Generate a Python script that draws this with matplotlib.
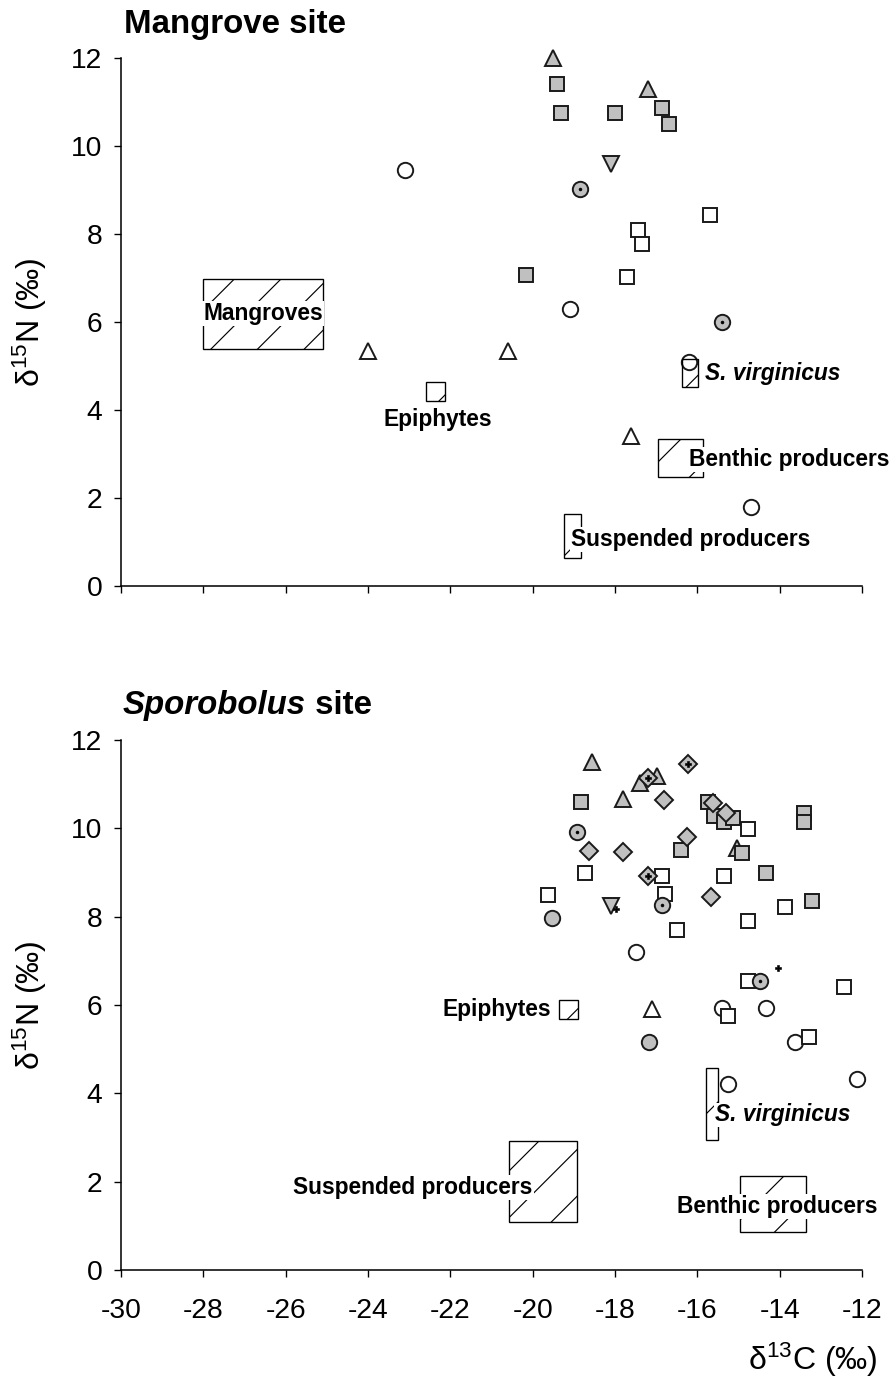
import matplotlib
matplotlib.use('Agg')
import matplotlib.pyplot as plt
import numpy as np

plt.rcParams['font.family'] = ['Liberation Sans', 'DejaVu Sans']
plt.rcParams['mathtext.fontset'] = 'custom'
plt.rcParams['mathtext.rm'] = 'Liberation Sans'
plt.rcParams['mathtext.it'] = 'Liberation Sans:italic'
plt.rcParams['mathtext.bf'] = 'Liberation Sans:bold'
plt.rcParams['axes.unicode_minus'] = False
plt.rcParams['hatch.linewidth'] = 0.6

GRAY = '#c0c0c0'
EDGE = '#1a1a1a'
DPI = 140

# ---------------- Mangrove site (top) ----------------
m_gray_sq_x = [-19.4, -19.3, -18.0, -16.85, -16.7, -20.15]
m_gray_sq_y = [11.42, 10.76, 10.76, 10.87, 10.49, 7.07]
m_gray_tri_x = [-19.5, -17.2]
m_gray_tri_y = [12.0, 11.3]
m_gray_dtri_x = [-18.1]
m_gray_dtri_y = [9.6]
m_dot_circ_x = [-18.85, -15.4]
m_dot_circ_y = [9.03, 6.0]
m_white_sq_x = [-15.7, -17.45, -17.35, -17.7]
m_white_sq_y = [8.43, 8.08, 7.78, 7.02]
m_white_circ_x = [-23.1, -19.1, -16.2, -14.7]
m_white_circ_y = [9.45, 6.3, 5.08, 1.8]
m_white_tri_x = [-24.0, -20.6, -17.6]
m_white_tri_y = [5.35, 5.33, 3.41]

m_src_names = ['Mangroves', 'Epiphytes', 'S. virginicus', 'Benthic producers', 'Suspended producers']
m_src_xlo = [-28.0, -22.58, -16.37, -16.96, -19.25]
m_src_xhi = [-25.1, -22.12, -15.98, -15.86, -18.83]
m_src_ylo = [5.38, 4.21, 4.52, 2.48, 0.64]
m_src_yhi = [6.98, 4.64, 5.17, 3.33, 1.63]

# ---------------- Sporobolus site (bottom) ----------------
s_gray_tri_x = [-18.56, -17.39, -16.97, -17.8, -15.03]
s_gray_tri_y = [11.51, 11.03, 11.18, 10.67, 9.55]
s_gray_sq_x = [-18.82, -15.75, -15.59, -15.35, -15.14, -13.41, -13.41, -16.39, -14.91, -14.33, -13.21]
s_gray_sq_y = [10.6, 10.59, 10.29, 10.14, 10.24, 10.35, 10.15, 9.52, 9.45, 9.0, 8.35]
s_gray_dia_x = [-16.22, -17.19, -16.81, -15.61, -15.3, -18.62, -17.8, -16.26, -17.21, -15.67]
s_gray_dia_y = [11.45, 11.13, 10.64, 10.57, 10.34, 9.49, 9.47, 9.8, 8.91, 8.44]
s_gray_dtri_x = [-18.09]
s_gray_dtri_y = [8.25]
s_dot_circ_x = [-18.92, -16.85, -14.48]
s_dot_circ_y = [9.92, 8.26, 6.54]
s_gray_circ_x = [-19.53, -17.17]
s_gray_circ_y = [7.96, 5.16]
s_white_sq_x = [-14.77, -18.72, -16.87, -15.36, -19.62, -16.79, -13.86, -14.78, -16.5, -14.78, -12.43, -15.25, -13.29]
s_white_sq_y = [9.98, 9.0, 8.91, 8.92, 8.48, 8.51, 8.22, 7.91, 7.7, 6.55, 6.4, 5.75, 5.28]
s_white_circ_x = [-17.5, -15.41, -14.32, -13.62, -15.25, -12.13]
s_white_circ_y = [7.21, 5.94, 5.93, 5.17, 4.21, 4.33]
s_white_tri_x = [-17.1]
s_white_tri_y = [5.9]
s_plus_x = [-16.22, -17.19, -17.21, -17.97, -14.03]
s_plus_y = [11.45, 11.13, 8.91, 8.18, 6.83]

s_src_names = ['Epiphytes', 'S. virginicus', 'Suspended producers', 'Benthic producers']
s_src_xlo = [-19.35, -15.8, -20.57, -14.97]
s_src_xhi = [-18.89, -15.5, -18.93, -13.35]
s_src_ylo = [5.68, 2.94, 1.08, 0.87]
s_src_yhi = [6.11, 4.57, 2.92, 2.12]

fig = plt.figure(figsize=(892 / DPI, 1383 / DPI), dpi=DPI)
ax1 = fig.add_axes([121 / 892, 1 - 586 / 1383, 741 / 892, 528 / 1383])
ax2 = fig.add_axes([121 / 892, 1 - 1270 / 1383, 741 / 892, 530 / 1383])

MS_SQ, MS_O, MS_TRI, MS_D = 7.2, 7.9, 8.2, 6.4


def pts(ax, x, y, marker, fc, ms, z=3):
    ax.plot(x, y, ls='none', marker=marker, mfc=fc, mec=EDGE, ms=ms, mew=1.0,
            clip_on=False, zorder=z)


def dots(ax, x, y):
    ax.plot(x, y, ls='none', marker='o', mfc='black', mec='black', ms=1.5, mew=0.3,
            clip_on=False, zorder=3.5)


def sources(ax, xlo, xhi, ylo, yhi):
    ax.bar(xlo, np.subtract(yhi, ylo), width=np.subtract(xhi, xlo), bottom=ylo,
           align='edge', facecolor='none', edgecolor='black', hatch='/',
           linewidth=0.7, zorder=4)


def label(ax, x, y, s, ha='left', italic=False):
    ax.text(x, y, s, ha=ha, va='center', fontsize=11.7, fontweight='bold',
            fontstyle='italic' if italic else 'normal', zorder=5,
            bbox=dict(facecolor='white', edgecolor='none', pad=0.5))


def style(ax, show_xlabels):
    ax.set_xlim(-30, -12)
    ax.set_ylim(0, 12)
    ax.set_xticks(np.arange(-30, -11, 2))
    ax.set_yticks(np.arange(0, 13, 2))
    for s in ['top', 'right']:
        ax.spines[s].set_visible(False)
    for s in ['left', 'bottom']:
        ax.spines[s].set_linewidth(0.8)
    ax.tick_params(direction='out', length=3.6, width=0.7, labelsize=14.5)
    ax.tick_params(axis='y', pad=6)
    ax.tick_params(axis='x', pad=11, labelbottom=show_xlabels)


# top panel
pts(ax1, m_white_circ_x, m_white_circ_y, 'o', 'white', MS_O)
pts(ax1, m_white_sq_x, m_white_sq_y, 's', 'white', MS_SQ)
pts(ax1, m_white_tri_x, m_white_tri_y, '^', 'white', MS_TRI)
pts(ax1, m_gray_tri_x, m_gray_tri_y, '^', GRAY, MS_TRI)
pts(ax1, m_gray_sq_x, m_gray_sq_y, 's', GRAY, MS_SQ)
pts(ax1, m_gray_dtri_x, m_gray_dtri_y, 'v', GRAY, MS_TRI)
pts(ax1, m_dot_circ_x, m_dot_circ_y, 'o', GRAY, MS_O)
dots(ax1, m_dot_circ_x, m_dot_circ_y)
sources(ax1, m_src_xlo, m_src_xhi, m_src_ylo, m_src_yhi)

label(ax1, -26.55, 6.2, m_src_names[0], ha='center')
label(ax1, -22.3, 3.79, m_src_names[1], ha='center')
label(ax1, -15.82, 4.82, m_src_names[2], italic=True)
label(ax1, -16.2, 2.88, m_src_names[3])
label(ax1, -19.08, 1.05, m_src_names[4])
style(ax1, False)

# bottom panel
pts(ax2, s_white_circ_x, s_white_circ_y, 'o', 'white', MS_O)
pts(ax2, s_white_sq_x, s_white_sq_y, 's', 'white', MS_SQ)
pts(ax2, s_white_tri_x, s_white_tri_y, '^', 'white', MS_TRI)
pts(ax2, s_gray_tri_x, s_gray_tri_y, '^', GRAY, MS_TRI)
pts(ax2, s_gray_sq_x, s_gray_sq_y, 's', GRAY, MS_SQ)
pts(ax2, s_gray_dia_x, s_gray_dia_y, 'D', GRAY, MS_D)
pts(ax2, s_gray_dtri_x, s_gray_dtri_y, 'v', GRAY, MS_TRI)
pts(ax2, s_gray_circ_x, s_gray_circ_y, 'o', GRAY, MS_O)
pts(ax2, s_dot_circ_x, s_dot_circ_y, 'o', GRAY, MS_O)
dots(ax2, s_dot_circ_x, s_dot_circ_y)
ax2.plot(s_plus_x, s_plus_y, ls='none', marker='P', mfc='black', mec='black',
         ms=3.3, mew=0.3, zorder=3.6)
sources(ax2, s_src_xlo, s_src_xhi, s_src_ylo, s_src_yhi)

label(ax2, -19.55, 5.89, s_src_names[0], ha='right')
label(ax2, -15.57, 3.51, s_src_names[1], italic=True)
label(ax2, -20.0, 1.87, s_src_names[2], ha='right')
label(ax2, -14.06, 1.43, s_src_names[3], ha='center')
style(ax2, True)

# titles and axis labels
fig.text(124 / 892, 1 - 25 / 1383, 'Mangrove site', fontsize=17, fontweight='bold',
         ha='left', va='center')
t1 = fig.text(123 / 892, 1 - 705 / 1383, 'Sporobolus', fontsize=17, fontweight='bold',
              fontstyle='italic', ha='left', va='center')
ax2.annotate(' site', xy=(1, 0), xycoords=t1, fontsize=17, fontweight='bold',
             ha='left', va='bottom', annotation_clip=False)
ylab = 'δ$^{15}$N (‰)'
fig.text(30 / 892, 1 - 322 / 1383, ylab, fontsize=16.5, rotation=90, ha='center', va='center')
fig.text(30 / 892, 1 - 1005 / 1383, ylab, fontsize=16.5, rotation=90, ha='center', va='center')
fig.text(878 / 892, 1 - 1360 / 1383, 'δ$^{13}$C (‰)', fontsize=16.5, ha='right', va='center')

fig.savefig('out.png', dpi=DPI)
